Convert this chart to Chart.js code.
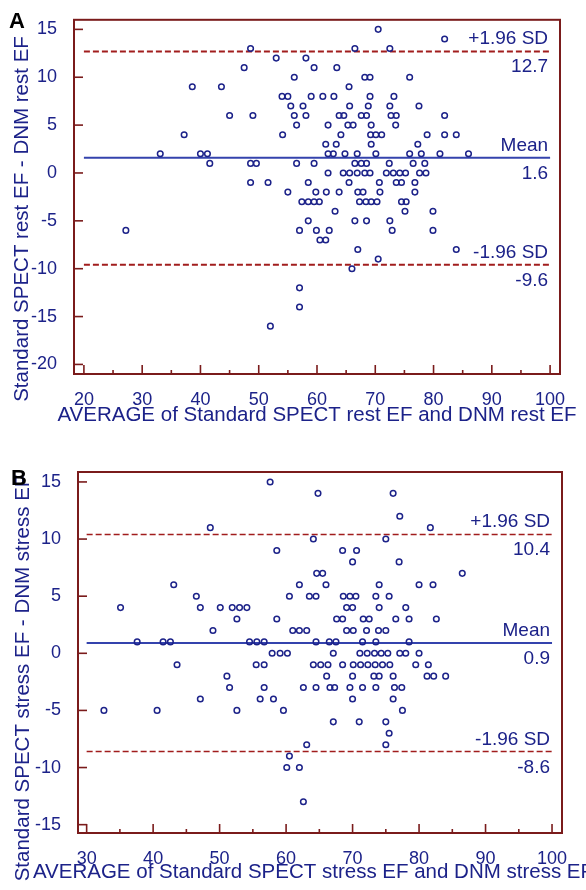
<!DOCTYPE html>
<html>
<head>
<meta charset="utf-8">
<script src="https://cdn.jsdelivr.net/npm/chart.js@4.4.0/dist/chart.umd.min.js"></script>
<style>
  html, body { margin: 0; padding: 0; background: #fff; }
  #wrap { position: relative; width: 586px; height: 890px; }
  canvas { position: absolute; left: 0; }
</style>
</head>
<body>
<div id="wrap">
  <canvas id="chartA" width="586" height="445" style="top:0"></canvas>
  <canvas id="chartB" width="586" height="445" style="top:445px"></canvas>
</div>
<script>
// ---- panel A : rest EF (difference level -> averages at that level)
const restDiff = [15, 14, 13, 12, 11, 10, 9, 8, 7, 6, 5, 4, 3, 2, 1, 0, -1, -2, -3, -4, -5, -6, -7, -8, -9, -10, -12, -14, -16];
const restAvg = [
  [70.5],
  [81.9],
  [48.6, 66.5, 72.5],
  [53.0, 58.1],
  [47.5, 59.5, 63.4],
  [56.1, 68.2, 69.1, 75.9],
  [38.6, 43.6, 65.5],
  [54.0, 55.0, 59.0, 61.0, 62.9, 69.1, 73.2],
  [55.5, 57.6, 65.6, 68.8, 72.5, 77.5],
  [45.0, 49.0, 56.1, 58.1, 63.8, 64.6, 67.6, 68.5, 72.7, 73.6, 81.9],
  [56.5, 61.9, 65.3, 66.2, 69.3, 73.5],
  [37.2, 54.1, 64.1, 69.2, 70.1, 71.1, 78.9, 81.9, 83.9],
  [61.5, 63.3, 69.3, 77.3],
  [33.1, 40.0, 41.2, 61.9, 62.8, 64.8, 66.9, 70.1, 75.9, 77.9, 81.1, 86.0],
  [41.6, 48.6, 49.6, 56.5, 59.5, 66.5, 67.6, 68.5, 72.4, 76.5, 78.5],
  [61.9, 64.5, 65.6, 66.9, 68.2, 69.1, 71.9, 73.1, 74.2, 75.2, 77.6, 78.7],
  [48.6, 51.6, 58.5, 65.5, 70.7, 73.6, 74.5, 76.8],
  [55.0, 59.8, 61.6, 63.8, 67.0, 67.9, 70.8, 76.8],
  [57.4, 58.5, 59.5, 60.4, 67.3, 68.4, 69.3, 70.3, 74.5, 75.3],
  [63.1, 75.1, 79.9],
  [58.5, 66.5, 68.5, 72.5],
  [27.2, 57.0, 59.9, 62.1, 72.9, 79.9],
  [60.5, 61.5],
  [67.0, 83.9],
  [70.5],
  [66.0],
  [57.0],
  [57.0],
  [52.0]
];
const restLimits = [12.7, 1.6, -9.6];
const restXTicks = [20, 30, 40, 50, 60, 70, 80, 90, 100];
const restYTicks = [-20, -15, -10, -5, 0, 5, 10, 15];

// ---- panel B : stress EF
const stressDiff = [15, 14, 12, 11, 10, 9, 8, 7, 6, 5, 4, 3, 2, 1, 0, -1, -2, -3, -4, -5, -6, -7, -8, -9, -10, -13];
const stressAvg = [
  [57.6],
  [64.8, 76.1],
  [77.1],
  [48.6, 81.7],
  [64.1, 75.0],
  [58.6, 68.5, 70.6],
  [70.0, 77.0],
  [64.6, 65.5, 86.5],
  [43.1, 62.0, 66.0, 74.0, 80.0, 82.1],
  [46.5, 60.5, 63.5, 64.5, 68.6, 69.6, 70.5, 73.5, 75.5],
  [35.1, 47.1, 50.1, 51.9, 53.0, 54.1, 69.1, 70.0, 74.0, 78.0],
  [52.6, 58.6, 67.6, 68.5, 71.6, 72.5, 76.5, 78.5, 82.6],
  [49.0, 61.0, 62.0, 63.1, 69.1, 70.1, 72.1, 73.9, 75.0],
  [37.6, 41.5, 42.6, 54.5, 55.6, 56.7, 64.5, 66.5, 67.5, 71.5, 73.5, 78.5],
  [57.9, 59.1, 60.2, 67.1, 71.1, 72.2, 73.3, 74.3, 75.3, 77.1, 78.0, 80.0],
  [43.6, 55.5, 56.7, 64.1, 65.2, 66.3, 68.5, 70.1, 71.2, 72.3, 73.4, 74.5, 75.6, 79.5, 81.4],
  [51.1, 66.1, 70.0, 73.2, 74.0, 76.1, 81.2, 82.2, 84.0],
  [51.5, 56.7, 62.6, 64.5, 66.6, 67.3, 69.6, 71.5, 73.5, 76.3, 77.4],
  [47.1, 56.1, 58.1, 70.0, 76.1],
  [32.6, 40.6, 52.6, 59.6, 77.5],
  [67.1, 71.0, 75.0],
  [75.5],
  [63.1, 75.0],
  [60.5],
  [60.1, 62.0],
  [62.6]
];
const stressLimits = [10.4, 0.9, -8.6];
const stressXTicks = [30, 40, 50, 60, 70, 80, 90, 100];
const stressYTicks = [-15, -10, -5, 0, 5, 10, 15];

const limitLabels = ['+1.96 SD', 'Mean', '-1.96 SD'];

const FONT = '"Liberation Sans", Arial, sans-serif';
const NAVY = '#1c2289';
const BLUE = '#3443ad';
const RED = '#a11d1d';
const AXIS = '#7a1b1b';
const H = 445;

function makeChart(id, p) {
    const pts = [];
    p.diff.forEach((d, i) => p.avg[i].forEach(x => pts.push({ x: x, y: d })));

    const x0 = p.xTicks[0], x1 = p.xTicks[p.xTicks.length - 1];
    const lineSets = p.limits.map((v, i) => ({
        type: 'line',
        data: [{ x: x0, y: v }, { x: x1, y: v }],
        borderColor: i === 1 ? BLUE : RED,
        borderWidth: i === 1 ? 2 : p.dashWidth,
        borderDash: i === 1 ? [] : [6, 3],
        pointRadius: 0,
        fill: false
    }));

    // frame, inward ticks, limit labels, titles
    const deco = {
        id: 'deco',
        afterDraw(chart) {
            const ctx = chart.ctx, a = chart.chartArea;
            const xs = chart.scales.x, ys = chart.scales.y;
            const seg = (ax, ay, bx, by) => { ctx.beginPath(); ctx.moveTo(ax, ay); ctx.lineTo(bx, by); ctx.stroke(); };
            ctx.save();
            ctx.strokeStyle = AXIS;
            ctx.lineWidth = 2;
            ctx.strokeRect(a.left, a.top, a.right - a.left, a.bottom - a.top);
            ctx.lineWidth = 1.6;
            p.xTicks.forEach(v => {
                const px = xs.getPixelForValue(v);
                seg(px, a.bottom, px, a.bottom - 9);
                if (v < x1) {
                    const m = xs.getPixelForValue(v + 5);
                    seg(m, a.bottom, m, a.bottom - 4);
                }
            });
            p.yTicks.forEach(v => {
                const py = ys.getPixelForValue(v);
                seg(a.left, py, a.left + 9, py);
            });

            ctx.fillStyle = NAVY;
            ctx.font = '19px ' + FONT;
            ctx.textAlign = 'right';
            const tx = xs.getPixelForValue(x1) - 2;
            p.limits.forEach((v, i) => {
                const py = ys.getPixelForValue(v);
                ctx.fillText(limitLabels[i], tx, py - 7);
                ctx.fillText(v.toFixed(1), tx, py + 21);
            });

            ctx.font = '20.5px ' + FONT;
            ctx.textAlign = 'center';
            ctx.fillText(p.xTitle, p.xTitleAt[0], p.xTitleAt[1]);
            ctx.save();
            ctx.translate(p.yTitleAt[0], p.yTitleAt[1]);
            ctx.rotate(-Math.PI / 2);
            ctx.textBaseline = 'middle';
            ctx.fillText(p.yTitle, 0, 0);
            ctx.restore();

            ctx.fillStyle = '#000';
            ctx.font = 'bold 22px ' + FONT;
            ctx.textAlign = 'left';
            ctx.fillText(p.letter, p.letterAt[0], p.letterAt[1]);
            ctx.restore();
        }
    };

    return new Chart(document.getElementById(id), {
        type: 'scatter',
        data: {
            datasets: [{
                data: pts,
                pointStyle: 'circle',
                pointRadius: 2.8,
                borderWidth: 1.5,
                borderColor: NAVY,
                backgroundColor: 'rgba(255,255,255,0)'
            }].concat(lineSets)
        },
        options: {
            responsive: false,
            animation: false,
            devicePixelRatio: 1,
            layout: { padding: { top: p.area.top, right: 586 - p.area.right, left: 0, bottom: 0 } },
            plugins: { legend: { display: false }, tooltip: { enabled: false } },
            scales: {
                x: {
                    type: 'linear',
                    min: p.xRange[0], max: p.xRange[1],
                    grid: { display: false },
                    border: { display: false },
                    afterFit(s) { s.height = H - p.area.bottom; },
                    afterBuildTicks(s) { s.ticks = p.xTicks.map(v => ({ value: v })); },
                    ticks: { font: { family: FONT, size: 18 }, color: NAVY, padding: 7, maxRotation: 0, autoSkip: false }
                },
                y: {
                    type: 'linear',
                    min: p.yRange[0], max: p.yRange[1],
                    grid: { display: false },
                    border: { display: false },
                    afterFit(s) { s.width = p.area.left; },
                    afterBuildTicks(s) { s.ticks = p.yTicks.map(v => ({ value: v })); },
                    ticks: { font: { family: FONT, size: 18 }, color: NAVY, padding: 9, autoSkip: false }
                }
            }
        },
        plugins: [deco]
    });
}

makeChart('chartA', {
    diff: restDiff, avg: restAvg, limits: restLimits,
    xTicks: restXTicks, yTicks: restYTicks,
    xRange: [18.3, 101.7], yRange: [-21.0, 16.0],
    area: { left: 74, right: 560, top: 11, bottom: 374 },
    dashWidth: 2,
    xTitle: 'AVERAGE of Standard SPECT rest EF and DNM rest EF', xTitleAt: [317, 421],
    yTitle: 'Standard SPECT rest EF - DNM rest EF', yTitleAt: [22, 219],
    letter: 'A', letterAt: [9, 28]
});

makeChart('chartB', {
    diff: stressDiff, avg: stressAvg, limits: stressLimits,
    xTicks: stressXTicks, yTicks: stressYTicks,
    xRange: [28.7, 101.5], yRange: [-15.73, 15.87],
    area: { left: 78, right: 562, top: 27, bottom: 388 },
    dashWidth: 1.6,
    xTitle: 'AVERAGE of Standard SPECT stress EF and DNM stress EF', xTitleAt: [313, 433],
    yTitle: 'Standard SPECT stress EF - DNM stress EF', yTitleAt: [23, 233],
    letter: 'B', letterAt: [11, 40]
});
</script>
</body>
</html>
